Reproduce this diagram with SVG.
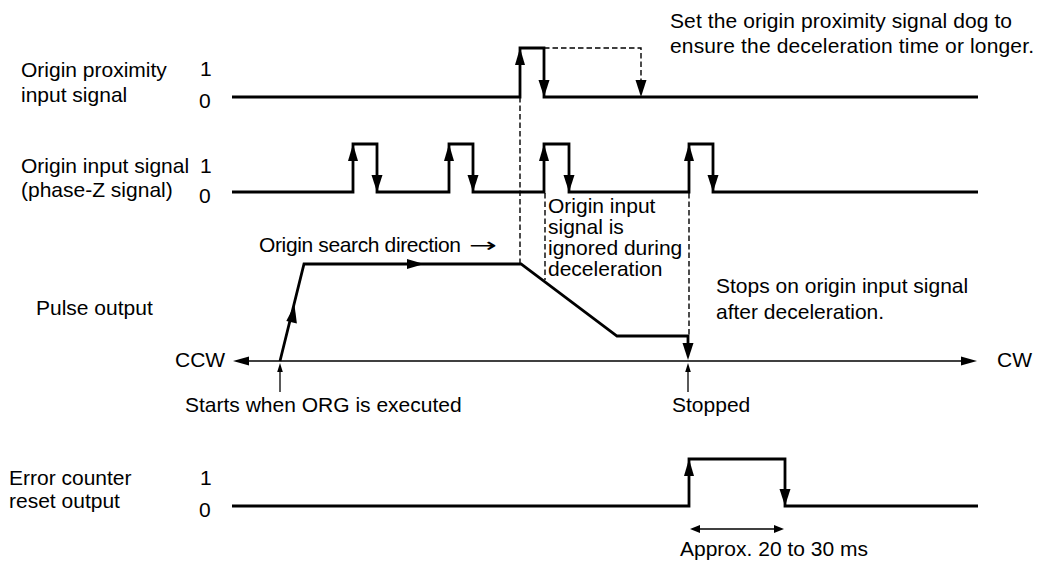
<svg xmlns="http://www.w3.org/2000/svg" width="1037" height="562" viewBox="0 0 1037 562">
<style>
text{font-family:"Liberation Sans",Arial,Helvetica,sans-serif;font-size:21px;fill:#000}
.sig{fill:none;stroke:#000;stroke-width:2.8;stroke-linejoin:miter;stroke-linecap:butt}
.thin{fill:none;stroke:#000;stroke-width:1.3}
.dash{fill:none;stroke:#000;stroke-width:1.4;stroke-dasharray:5.5 3}
.ah{fill:#000;stroke:none}
</style>
<defs>
<path id="up" d="M0,0 L-5,17 L5,17 Z"/>
<path id="dn" d="M0,0 L-5.5,-17 L5.5,-17 Z"/>
<path id="upS" d="M0,0 L-2.8,9 L2.8,9 Z"/>
</defs>
<rect width="1037" height="562" fill="#fff"/>

<g id="proximity-signal">
<text x="21" y="77">Origin proximity</text>
<text x="21" y="102">input signal</text>
<text x="200" y="76">1</text>
<text x="199" y="108">0</text>
<polyline class="sig" points="232,97 520,97 520,48 544,48 544,97 978,97"/>
<use href="#up" x="520" y="48" class="ah"/>
<use href="#dn" x="544" y="97" class="ah"/>
</g>

<g id="origin-input-signal">
<text x="21" y="173">Origin input signal</text>
<text x="21" y="197">(phase-Z signal)</text>
<text x="200" y="173">1</text>
<text x="199" y="203">0</text>
<polyline class="sig" points="232,192 353,192 353,144 377,144 377,192 449,192 449,144 473,144 473,192 544,192 544,144 569,144 569,192 689,192 689,144 713,144 713,192 978,192"/>
<use href="#up" x="353" y="144" class="ah"/>
<use href="#dn" x="377" y="192" class="ah"/>
<use href="#up" x="449" y="144" class="ah"/>
<use href="#dn" x="473" y="192" class="ah"/>
<use href="#up" x="544" y="144" class="ah"/>
<use href="#dn" x="569" y="192" class="ah"/>
<use href="#up" x="689" y="144" class="ah"/>
<use href="#dn" x="713" y="192" class="ah"/>
</g>

<g id="pulse-output">
<text x="36" y="315">Pulse output</text>
<text x="175" y="367">CCW</text>
<text x="997" y="367">CW</text>
<line class="thin" x1="245" y1="361" x2="964" y2="361"/>
<path class="ah" d="M233,361 L249,356.5 L249,365.5 Z"/>
<path class="ah" d="M977,361 L961,356.5 L961,365.5 Z"/>
<polyline class="sig" points="280,361 304,264 521,264 617,336 688,336 688,350"/>
<path class="ah" d="M294.5,305 L286.3,321 L296.9,323.5 Z"/>
<path class="ah" d="M424,264 L407,259 L407,269 Z"/>
<use href="#dn" x="688" y="360" class="ah"/>
</g>

<g id="error-counter-reset">
<text x="9" y="485">Error counter</text>
<text x="9" y="508">reset output</text>
<text x="200" y="485">1</text>
<text x="199" y="517">0</text>
<polyline class="sig" points="232,506 689,506 689,459 785,459 785,506 978,506"/>
<use href="#up" x="689" y="459" class="ah"/>
<use href="#dn" x="785" y="506" class="ah"/>
</g>

<g id="annotations">
<text x="670" y="28" textLength="342">Set the origin proximity signal dog to</text>
<text x="670" y="53" textLength="364">ensure the deceleration time or longer.</text>
<text x="548" y="213">Origin input</text>
<text x="548" y="234">signal is</text>
<text x="548" y="255">ignored during</text>
<text x="548" y="276">deceleration</text>
<text x="259" y="252" textLength="202">Origin search direction</text>
<text x="469" y="252" style="font-family:'DejaVu Sans',sans-serif;font-size:20px" textLength="28" lengthAdjust="spacingAndGlyphs">→</text>
<text x="716" y="293">Stops on origin input signal</text>
<text x="716" y="319">after deceleration.</text>
<text x="185" y="412">Starts when ORG is executed</text>
<text x="672" y="412">Stopped</text>
<text x="680" y="556">Approx. 20 to 30 ms</text>
</g>

<g id="connectors">
<polyline class="dash" points="544,48 641,48 641,82"/>
<use href="#dn" x="641" y="97" class="ah"/>
<line class="dash" x1="520" y1="97" x2="520" y2="263"/>
<line class="dash" x1="545" y1="193" x2="545" y2="280"/>
<line class="dash" x1="689" y1="193" x2="689" y2="335"/>
<line class="thin" x1="280" y1="392" x2="280" y2="368"/>
<use href="#upS" x="280" y="363" class="ah"/>
<line class="thin" x1="688" y1="392" x2="688" y2="368"/>
<use href="#upS" x="688" y="363" class="ah"/>
<line class="thin" x1="698" y1="529" x2="776" y2="529"/>
<path class="ah" d="M690,529 L700,525 L700,533 Z"/>
<path class="ah" d="M784,529 L774,525 L774,533 Z"/>
</g>
</svg>
